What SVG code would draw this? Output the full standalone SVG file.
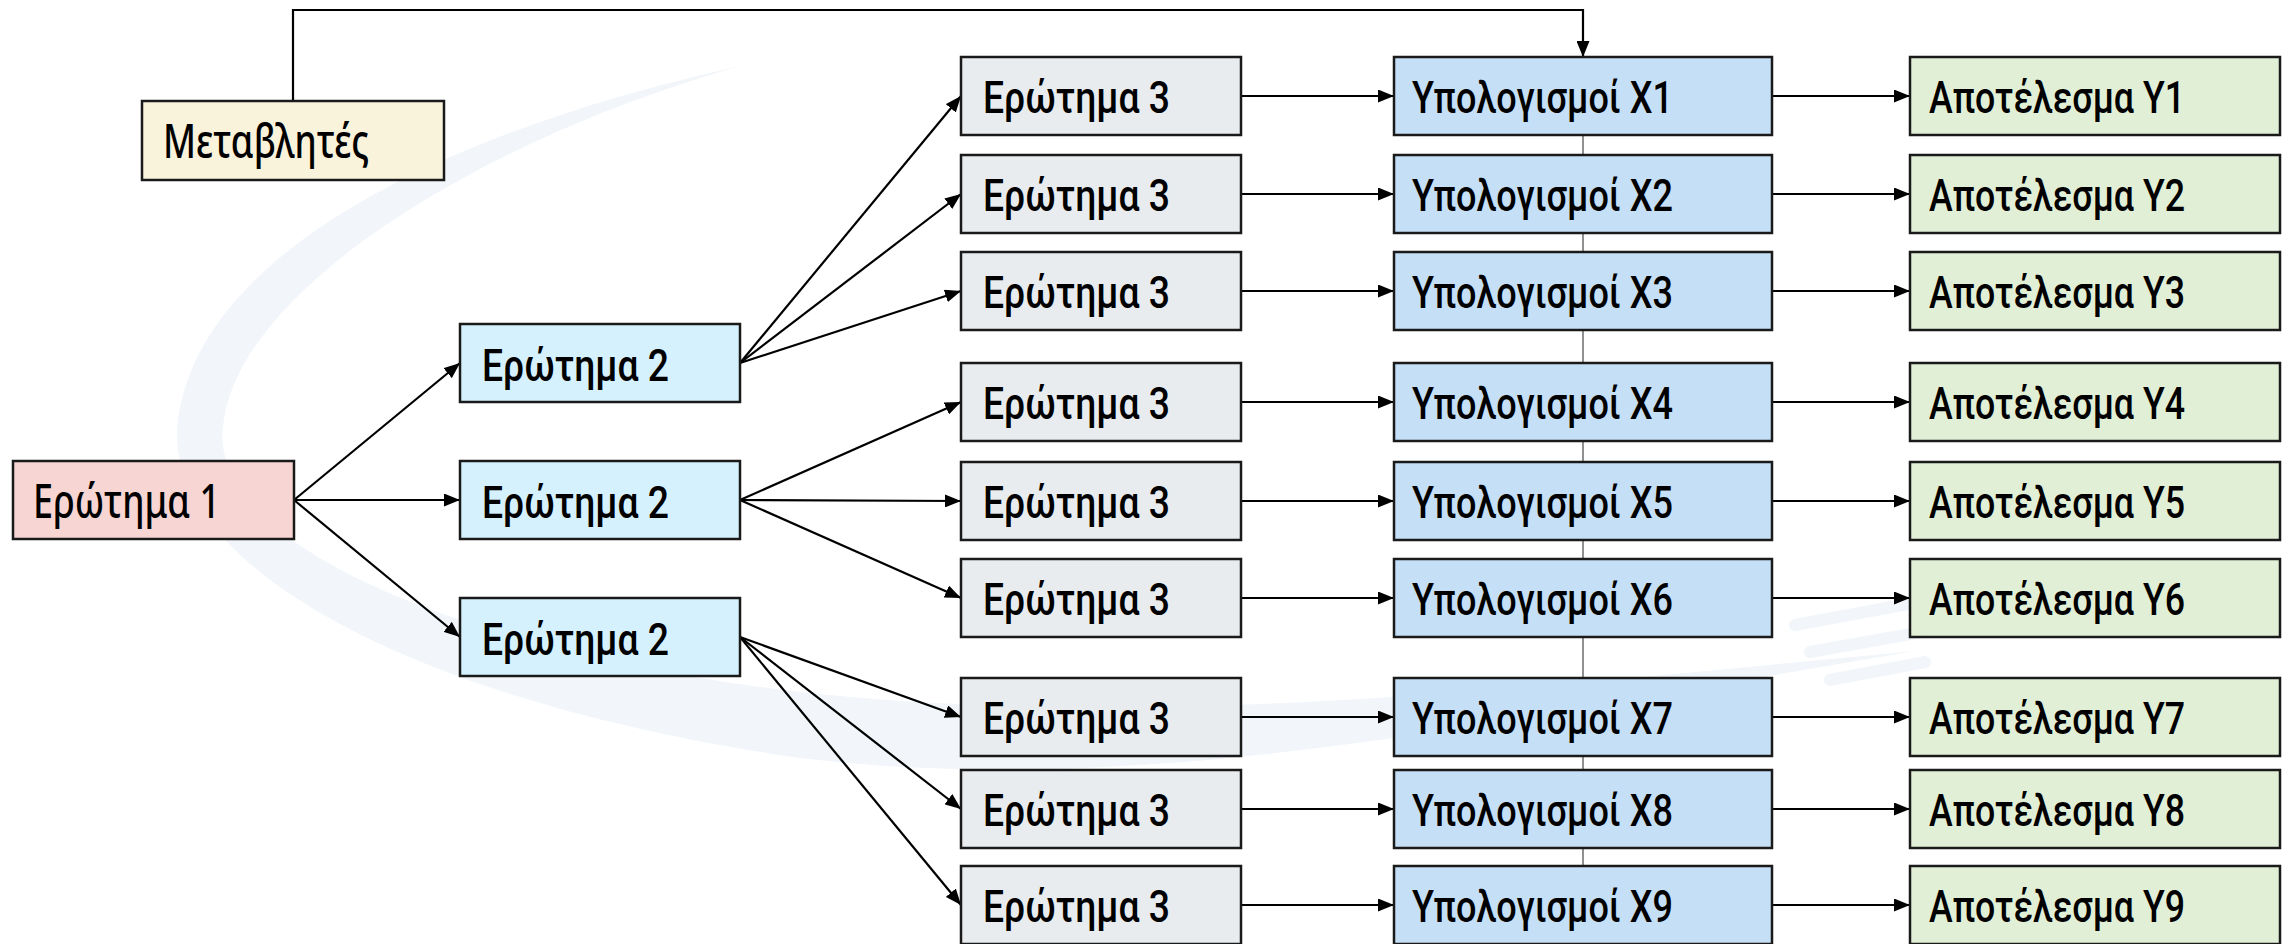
<svg xmlns="http://www.w3.org/2000/svg" width="2293" height="944" viewBox="0 0 2293 944">
<style>
.box{stroke:#1a1a1a;stroke-width:2.5}
.m{fill:#faf3dc}.q1{fill:#f6d5d3}.q2{fill:#d5f1fd}.q3{fill:#e8ecef}.calc{fill:#c5dff6}.res{fill:#e2efd7}
.r{font-family:"Noto Sans","Open Sans","Liberation Sans",sans-serif;font-size:48px;font-weight:500;fill:#000}
.c{font-family:"Liberation Sans Narrow","Roboto","Liberation Sans",sans-serif;font-size:45px;font-weight:500;fill:#000}
.ln{stroke:#000;stroke-width:2.2;fill:none;marker-end:url(#ah)}
.wm{fill:#f2f6fa}
</style>
<defs>
<marker id="ah" markerWidth="16" markerHeight="13" refX="16" refY="6.5" orient="auto" markerUnits="userSpaceOnUse"><path d="M0,0 L16,6.5 L0,13 Z" fill="#000"/></marker>
</defs>
<rect width="2293" height="944" fill="#fff"/>
<g id="watermark">
<path class="wm" d="M740 66 C450 130,200 250,178 420 C160 560,400 700,800 758 C1150 800,1500 720,1916 651 C1500 690,1150 730,800 692 C450 650,200 540,224 420 C240 300,450 150,740 66 Z"/>
<g stroke="#f2f6fa" stroke-width="12" stroke-linecap="round">
<line x1="1795" y1="625" x2="1940" y2="598"/>
<line x1="1810" y1="652" x2="1950" y2="627"/>
<line x1="1830" y1="680" x2="1925" y2="662"/>
</g>
</g>
<g id="connectors">
<line x1="1583" y1="136" x2="1583" y2="944" stroke="#555" stroke-width="1.3"/>
<path class="ln" d="M293 101 V10 H1583 V57"/>
<line class="ln" x1="294" y1="500" x2="460" y2="363"/>
<line class="ln" x1="294" y1="500" x2="460" y2="500"/>
<line class="ln" x1="294" y1="500" x2="460" y2="637"/>
<line class="ln" x1="740" y1="363" x2="961" y2="96"/>
<line class="ln" x1="740" y1="363" x2="961" y2="194"/>
<line class="ln" x1="740" y1="363" x2="961" y2="291"/>
<line class="ln" x1="740" y1="500" x2="961" y2="402"/>
<line class="ln" x1="740" y1="500" x2="961" y2="501"/>
<line class="ln" x1="740" y1="500" x2="961" y2="598"/>
<line class="ln" x1="740" y1="637" x2="961" y2="717"/>
<line class="ln" x1="740" y1="637" x2="961" y2="809"/>
<line class="ln" x1="740" y1="637" x2="961" y2="905"/>
<line class="ln" x1="1241" y1="96" x2="1394" y2="96"/>
<line class="ln" x1="1241" y1="194" x2="1394" y2="194"/>
<line class="ln" x1="1241" y1="291" x2="1394" y2="291"/>
<line class="ln" x1="1241" y1="402" x2="1394" y2="402"/>
<line class="ln" x1="1241" y1="501" x2="1394" y2="501"/>
<line class="ln" x1="1241" y1="598" x2="1394" y2="598"/>
<line class="ln" x1="1241" y1="717" x2="1394" y2="717"/>
<line class="ln" x1="1241" y1="809" x2="1394" y2="809"/>
<line class="ln" x1="1241" y1="905" x2="1394" y2="905"/>
<line class="ln" x1="1772" y1="96" x2="1910" y2="96"/>
<line class="ln" x1="1772" y1="194" x2="1910" y2="194"/>
<line class="ln" x1="1772" y1="291" x2="1910" y2="291"/>
<line class="ln" x1="1772" y1="402" x2="1910" y2="402"/>
<line class="ln" x1="1772" y1="501" x2="1910" y2="501"/>
<line class="ln" x1="1772" y1="598" x2="1910" y2="598"/>
<line class="ln" x1="1772" y1="717" x2="1910" y2="717"/>
<line class="ln" x1="1772" y1="809" x2="1910" y2="809"/>
<line class="ln" x1="1772" y1="905" x2="1910" y2="905"/>
</g>
<g id="metavlites"><rect class="box m" x="142" y="101" width="302" height="79"/><text class="r" x="163" y="158" textLength="206" lengthAdjust="spacingAndGlyphs">Μεταβλητές</text></g>
<g id="q1"><rect class="box q1" x="13" y="461" width="281" height="78"/><text class="r" x="33" y="518" textLength="187" lengthAdjust="spacingAndGlyphs">Ερώτημα 1</text></g>
<g id="q2a"><rect class="box q2" x="460" y="324" width="280" height="78"/><text class="c" x="482" y="381" textLength="187" lengthAdjust="spacingAndGlyphs">Ερώτημα 2</text></g>
<g id="q2b"><rect class="box q2" x="460" y="461" width="280" height="78"/><text class="c" x="482" y="518" textLength="187" lengthAdjust="spacingAndGlyphs">Ερώτημα 2</text></g>
<g id="q2c"><rect class="box q2" x="460" y="598" width="280" height="78"/><text class="c" x="482" y="655" textLength="187" lengthAdjust="spacingAndGlyphs">Ερώτημα 2</text></g>
<g id="q3-1"><rect class="box q3" x="961" y="57" width="280" height="78"/><text class="c" x="983" y="113" textLength="187" lengthAdjust="spacingAndGlyphs">Ερώτημα 3</text></g>
<g id="q3-2"><rect class="box q3" x="961" y="155" width="280" height="78"/><text class="c" x="983" y="211" textLength="187" lengthAdjust="spacingAndGlyphs">Ερώτημα 3</text></g>
<g id="q3-3"><rect class="box q3" x="961" y="252" width="280" height="78"/><text class="c" x="983" y="308" textLength="187" lengthAdjust="spacingAndGlyphs">Ερώτημα 3</text></g>
<g id="q3-4"><rect class="box q3" x="961" y="363" width="280" height="78"/><text class="c" x="983" y="419" textLength="187" lengthAdjust="spacingAndGlyphs">Ερώτημα 3</text></g>
<g id="q3-5"><rect class="box q3" x="961" y="462" width="280" height="78"/><text class="c" x="983" y="518" textLength="187" lengthAdjust="spacingAndGlyphs">Ερώτημα 3</text></g>
<g id="q3-6"><rect class="box q3" x="961" y="559" width="280" height="78"/><text class="c" x="983" y="615" textLength="187" lengthAdjust="spacingAndGlyphs">Ερώτημα 3</text></g>
<g id="q3-7"><rect class="box q3" x="961" y="678" width="280" height="78"/><text class="c" x="983" y="734" textLength="187" lengthAdjust="spacingAndGlyphs">Ερώτημα 3</text></g>
<g id="q3-8"><rect class="box q3" x="961" y="770" width="280" height="78"/><text class="c" x="983" y="826" textLength="187" lengthAdjust="spacingAndGlyphs">Ερώτημα 3</text></g>
<g id="q3-9"><rect class="box q3" x="961" y="866" width="280" height="78"/><text class="c" x="983" y="922" textLength="187" lengthAdjust="spacingAndGlyphs">Ερώτημα 3</text></g>
<g id="calc1"><rect class="box calc" x="1394" y="57" width="378" height="78"/><text class="c" x="1412" y="113" textLength="261" lengthAdjust="spacingAndGlyphs">Υπολογισμοί X1</text></g>
<g id="calc2"><rect class="box calc" x="1394" y="155" width="378" height="78"/><text class="c" x="1412" y="211" textLength="261" lengthAdjust="spacingAndGlyphs">Υπολογισμοί X2</text></g>
<g id="calc3"><rect class="box calc" x="1394" y="252" width="378" height="78"/><text class="c" x="1412" y="308" textLength="261" lengthAdjust="spacingAndGlyphs">Υπολογισμοί X3</text></g>
<g id="calc4"><rect class="box calc" x="1394" y="363" width="378" height="78"/><text class="c" x="1412" y="419" textLength="261" lengthAdjust="spacingAndGlyphs">Υπολογισμοί X4</text></g>
<g id="calc5"><rect class="box calc" x="1394" y="462" width="378" height="78"/><text class="c" x="1412" y="518" textLength="261" lengthAdjust="spacingAndGlyphs">Υπολογισμοί X5</text></g>
<g id="calc6"><rect class="box calc" x="1394" y="559" width="378" height="78"/><text class="c" x="1412" y="615" textLength="261" lengthAdjust="spacingAndGlyphs">Υπολογισμοί X6</text></g>
<g id="calc7"><rect class="box calc" x="1394" y="678" width="378" height="78"/><text class="c" x="1412" y="734" textLength="261" lengthAdjust="spacingAndGlyphs">Υπολογισμοί X7</text></g>
<g id="calc8"><rect class="box calc" x="1394" y="770" width="378" height="78"/><text class="c" x="1412" y="826" textLength="261" lengthAdjust="spacingAndGlyphs">Υπολογισμοί X8</text></g>
<g id="calc9"><rect class="box calc" x="1394" y="866" width="378" height="78"/><text class="c" x="1412" y="922" textLength="261" lengthAdjust="spacingAndGlyphs">Υπολογισμοί X9</text></g>
<g id="res1"><rect class="box res" x="1910" y="57" width="370" height="78"/><text class="c" x="1929" y="113" textLength="256" lengthAdjust="spacingAndGlyphs">Αποτέλεσμα Y1</text></g>
<g id="res2"><rect class="box res" x="1910" y="155" width="370" height="78"/><text class="c" x="1929" y="211" textLength="256" lengthAdjust="spacingAndGlyphs">Αποτέλεσμα Y2</text></g>
<g id="res3"><rect class="box res" x="1910" y="252" width="370" height="78"/><text class="c" x="1929" y="308" textLength="256" lengthAdjust="spacingAndGlyphs">Αποτέλεσμα Y3</text></g>
<g id="res4"><rect class="box res" x="1910" y="363" width="370" height="78"/><text class="c" x="1929" y="419" textLength="256" lengthAdjust="spacingAndGlyphs">Αποτέλεσμα Y4</text></g>
<g id="res5"><rect class="box res" x="1910" y="462" width="370" height="78"/><text class="c" x="1929" y="518" textLength="256" lengthAdjust="spacingAndGlyphs">Αποτέλεσμα Y5</text></g>
<g id="res6"><rect class="box res" x="1910" y="559" width="370" height="78"/><text class="c" x="1929" y="615" textLength="256" lengthAdjust="spacingAndGlyphs">Αποτέλεσμα Y6</text></g>
<g id="res7"><rect class="box res" x="1910" y="678" width="370" height="78"/><text class="c" x="1929" y="734" textLength="256" lengthAdjust="spacingAndGlyphs">Αποτέλεσμα Y7</text></g>
<g id="res8"><rect class="box res" x="1910" y="770" width="370" height="78"/><text class="c" x="1929" y="826" textLength="256" lengthAdjust="spacingAndGlyphs">Αποτέλεσμα Y8</text></g>
<g id="res9"><rect class="box res" x="1910" y="866" width="370" height="78"/><text class="c" x="1929" y="922" textLength="256" lengthAdjust="spacingAndGlyphs">Αποτέλεσμα Y9</text></g>
</svg>
